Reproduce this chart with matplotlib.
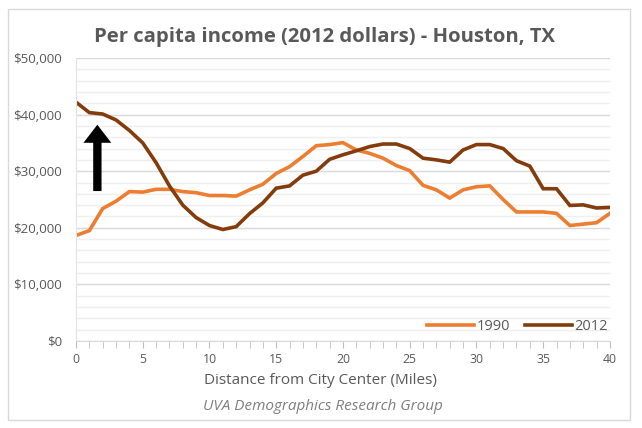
import matplotlib
matplotlib.use('Agg')
import matplotlib.pyplot as plt
from matplotlib.patches import Rectangle
from matplotlib.ticker import FuncFormatter, MultipleLocator

miles = list(range(0, 41))
income_1990 = [18650, 19500, 23400, 24700, 26400, 26300, 26800, 26800, 26400, 26200,
               25700, 25700, 25600, 26700, 27700, 29600, 30800, 32600, 34500, 34700,
               35050, 33750, 33150, 32300, 31000, 30100, 27500, 26700, 25250, 26700,
               27250, 27400, 25000, 22800, 22800, 22800, 22550, 20400, 20650, 20900,
               22550]
income_2012 = [42200, 40350, 40100, 39050, 37200, 35000, 31500, 27400, 24000, 21800,
               20400, 19700, 20200, 22500, 24400, 27000, 27400, 29300, 30000, 32100,
               32900, 33600, 34350, 34800, 34800, 34000, 32300, 32000, 31600, 33750,
               34700, 34700, 34000, 31850, 30900, 26900, 26900, 23950, 24050, 23500,
               23600]
series_labels = ['1990', '2012']

plt.rcParams['font.family'] = ['Open Sans', 'DejaVu Sans']
grey = '#595959'

fig = plt.figure(figsize=(6.42, 4.28), dpi=100)
fig.patches.append(Rectangle((0.012, 0.018), 0.970, 0.96, transform=fig.transFigure,
                             fill=False, edgecolor='#d9d9d9', linewidth=1))

ax = fig.add_axes([0.1184, 0.2033, 0.8316, 0.6612])
ax.plot(miles, income_1990, color='#ED7D31', lw=2.6, label=series_labels[0], solid_joinstyle='miter')
ax.plot(miles, income_2012, color='#843C0C', lw=2.6, label=series_labels[1], solid_joinstyle='miter')

ax.set_xlim(0, 40)
ax.set_ylim(0, 50000)
ax.yaxis.set_major_locator(MultipleLocator(10000))
ax.yaxis.set_minor_locator(MultipleLocator(2000))
ax.xaxis.set_major_locator(MultipleLocator(5))
ax.xaxis.set_minor_locator(MultipleLocator(1))
ax.yaxis.set_major_formatter(FuncFormatter(lambda v, p: '${:,.0f}'.format(v)))
ax.grid(axis='y', which='major', color='#d9d9d9', lw=1)
ax.grid(axis='y', which='minor', color='#efefef', lw=1)
ax.set_axisbelow(True)
for s in ['top', 'right']:
    ax.spines[s].set_visible(False)
ax.spines['left'].set_color('#e3e3e3')
ax.spines['bottom'].set_color('#d9d9d9')
ax.tick_params(axis='y', which='both', length=0, labelsize=9.6, labelcolor=grey, pad=10)
ax.tick_params(axis='x', which='both', direction='out', color='#bfbfbf', labelsize=8.8,
               labelcolor=grey, pad=4)
ax.tick_params(axis='x', which='major', length=5)
ax.tick_params(axis='x', which='minor', length=5)

ax.annotate('', xy=(1.6, 38700), xytext=(1.6, 26000),
            arrowprops=dict(arrowstyle='simple,head_length=1.3,head_width=2.0,tail_width=0.6',
                            color='black', lw=0))

ax.legend(loc='lower right', ncol=2, frameon=False, fontsize=10.5, handlelength=3.2,
          columnspacing=1.0, handletextpad=0.2, borderaxespad=0.1, labelcolor=grey,
          bbox_to_anchor=(1.01, 0.0))

fig.text(320 / 642, 1 - 381 / 428, 'Distance from City Center (Miles)', ha='center', va='center',
         fontsize=11, color=grey)
fig.text(325 / 642, 1 - 37 / 428, 'Per capita income (2012 dollars) - Houston, TX', ha='center',
         va='center', fontsize=14.6, fontweight='bold', color=grey)
fig.text(323 / 642, 1 - 407 / 428, 'UVA Demographics Research Group', ha='center', va='center',
         fontsize=11, style='italic', color='#7f7f7f')

fig.savefig('out.png', dpi=100)
